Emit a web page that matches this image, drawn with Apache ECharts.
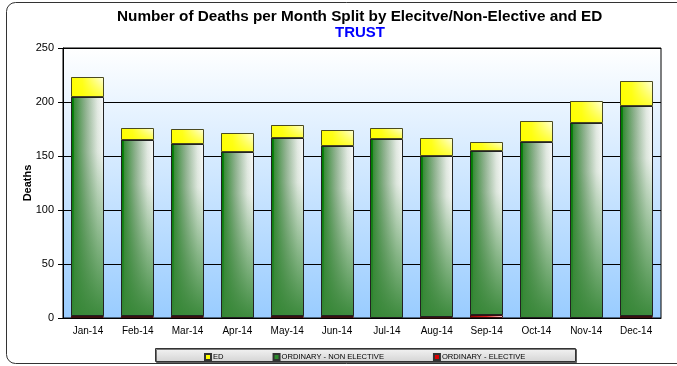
<!DOCTYPE html>
<html>
<head>
<meta charset="utf-8">
<script src="https://cdn.jsdelivr.net/npm/echarts@6/dist/echarts.min.js"></script>
<style>
  html, body { margin: 0; padding: 0; background: #fff; }
  #main { width: 677px; height: 366px; }
</style>
</head>
<body>
<div id="main"></div>
<script>
const months = ["Jan-14", "Feb-14", "Mar-14", "Apr-14", "May-14", "Jun-14",
  "Jul-14", "Aug-14", "Sep-14", "Oct-14", "Nov-14", "Dec-14"];
const elective = [2, 2, 2, 0, 2, 2, 0, 1, 3, 0, 0, 2];
const nonElective = [203, 163, 159, 154, 165, 157, 166, 149, 152, 163, 181, 194];
const ed = [18, 11, 14, 17, 12, 15, 10, 17, 8, 19, 20, 23];
const yTicks = [0, 50, 100, 150, 200, 250];

const FONT = "'Liberation Sans', Arial, sans-serif";
const G = echarts.graphic.LinearGradient;

// running totals so each segment sits on top of the previous ones
const stackBase = (...lists) => months.map((_, i) => lists.reduce((s, l) => s + l[i], 0));

function segment(base, fills, stroke) {
  return function (params, api) {
    const i = api.value(0);
    const v = api.value(1);
    if (!v) return;
    const lo = api.coord([i, base[i]]);
    const hi = api.coord([i, base[i] + v]);
    const w = Math.round(api.size([1, 0])[0] * 0.66);
    const x = Math.round(lo[0] - w / 2);
    const y0 = Math.round(lo[1]);
    const y1 = Math.round(hi[1]);
    const h = Math.max(y0 - y1, 1);
    const kids = fills.map(f => ({
      type: "rect",
      shape: { x: x, y: y1, width: w, height: h },
      style: { fill: f }
    }));
    kids.push({
      type: "rect",
      shape: { x: x + 0.5, y: y1 + 0.5, width: w - 1, height: Math.max(h - 1, 0.5) },
      style: { fill: "none", stroke: stroke, lineWidth: 1 }
    });
    return { type: "group", children: kids };
  };
}

const greenFills = [
  new G(0, 0, 1, 0, [
    { offset: 0, color: "#007c00" },
    { offset: 0.07, color: "#007c00" },
    { offset: 0.1, color: "#3a8c3a" },
    { offset: 0.45, color: "#93b493" },
    { offset: 0.8, color: "#e2e9e2" },
    { offset: 1, color: "#fafafa" }
  ]),
  new G(0, 0, 0, 1, [
    { offset: 0, color: "rgba(55,135,55,0)" },
    { offset: 0.25, color: "rgba(55,135,55,0.04)" },
    { offset: 0.65, color: "rgba(55,135,55,0.55)" },
    { offset: 1, color: "rgba(55,135,55,0.97)" }
  ])
];
const yellowFills = [
  new G(0, 0, 1, 0, [
    { offset: 0, color: "#ffff00" },
    { offset: 0.35, color: "#ffff20" },
    { offset: 1, color: "#ffffe8" }
  ]),
  new G(0, 0, 0, 1, [
    { offset: 0, color: "rgba(255,255,0,0)" },
    { offset: 1, color: "rgba(255,255,0,0.75)" }
  ])
];
const redFills = [
  new G(0, 0, 1, 0, [
    { offset: 0, color: "#990000" },
    { offset: 0.5, color: "#dd2020" },
    { offset: 1, color: "#ffd8d8" }
  ])
];

const chart = echarts.init(document.getElementById("main"), null, { renderer: "canvas" });

chart.setOption({
  animation: false,
  backgroundColor: "#fff",
  textStyle: { fontFamily: FONT },
  // titles sit over the middle of the plot, not the canvas
  title: [
    {
      left: 117,
      top: 9,
      padding: 0,
      text: "Number of Deaths per Month Split by Elecitve/Non-Elective and ED",
      textStyle: { fontFamily: FONT, fontSize: 15.3, fontWeight: "bold", color: "#000" }
    },
    {
      left: 335,
      top: 25,
      padding: 0,
      text: "TRUST",
      textStyle: { fontFamily: FONT, fontSize: 15, fontWeight: "bold", color: "#0000ff" }
    }
  ],
  grid: {
    left: 63, right: 16, top: 48, bottom: 48,
    show: true,
    borderColor: "#000",
    borderWidth: 1,
    backgroundColor: new G(0, 0, 0, 1, [
      { offset: 0, color: "#ffffff" },
      { offset: 1, color: "#99ccff" }
    ])
  },
  xAxis: {
    type: "category",
    data: months,
    axisLine: { lineStyle: { color: "#000" } },
    axisTick: { length: 4, lineStyle: { color: "#000" } },
    axisLabel: { fontSize: 10, color: "#000", margin: 8, fontFamily: FONT }
  },
  yAxis: {
    type: "value",
    min: yTicks[0],
    max: yTicks[yTicks.length - 1],
    interval: yTicks[1] - yTicks[0],
    name: "Deaths",
    nameLocation: "middle",
    nameRotate: 90,
    nameGap: 30,
    nameMoveOverlap: false,
    nameTextStyle: { fontSize: 11, fontWeight: "bold", color: "#000", fontFamily: FONT },
    axisLine: { show: true, lineStyle: { color: "#000" } },
    axisTick: { show: true, length: 5, lineStyle: { color: "#000" } },
    axisLabel: { fontSize: 11, color: "#000", margin: 9, fontFamily: FONT },
    splitLine: { lineStyle: { color: "#000", width: 1 } }
  },
  legend: {
    left: 199,
    top: 348,
    icon: "rect",
    itemWidth: 6,
    itemHeight: 6,
    itemGap: 49,
    textStyle: { fontSize: 7.6, color: "#000", fontFamily: FONT, padding: [0, 0, 0, -3] },
    data: ["ED", "ORDINARY - NON ELECTIVE", "ORDINARY - ELECTIVE"]
  },
  graphic: [
    {
      type: "rect",
      z: -10,
      shape: { x: 6.5, y: 2.5, width: 700, height: 361, r: 9 },
      style: { fill: "none", stroke: "#333", lineWidth: 1 }
    },
    {
      type: "rect",
      z: 0,
      shape: { x: 155.5, y: 348.5, width: 420, height: 13 },
      style: {
        fill: new G(0, 0, 0, 1, [
          { offset: 0, color: "#f4f4f4" },
          { offset: 1, color: "#d4d4d4" }
        ]),
        stroke: "#333",
        lineWidth: 1,
        shadowColor: "rgba(0,0,0,0.5)",
        shadowOffsetX: 1,
        shadowOffsetY: 1
      }
    }
  ],
  series: [
    {
      name: "ORDINARY - ELECTIVE",
      type: "custom",
      itemStyle: { color: "#dd0000", borderColor: "#333", borderWidth: 1 },
      data: months.map((m, i) => [i, elective[i]]),
      encode: { x: 0, y: 1 },
      renderItem: segment(stackBase(), redFills, "#3a1010")
    },
    {
      name: "ORDINARY - NON ELECTIVE",
      type: "custom",
      itemStyle: { color: "#2e8b2e", borderColor: "#333", borderWidth: 1 },
      data: months.map((m, i) => [i, nonElective[i]]),
      encode: { x: 0, y: 1 },
      renderItem: segment(stackBase(elective), greenFills, "#222")
    },
    {
      name: "ED",
      type: "custom",
      itemStyle: { color: "#ffff00", borderColor: "#333", borderWidth: 1 },
      data: months.map((m, i) => [i, ed[i]]),
      encode: { x: 0, y: 1 },
      renderItem: segment(stackBase(elective, nonElective), yellowFills, "#4a4a20")
    }
  ]
});
</script>
</body>
</html>
